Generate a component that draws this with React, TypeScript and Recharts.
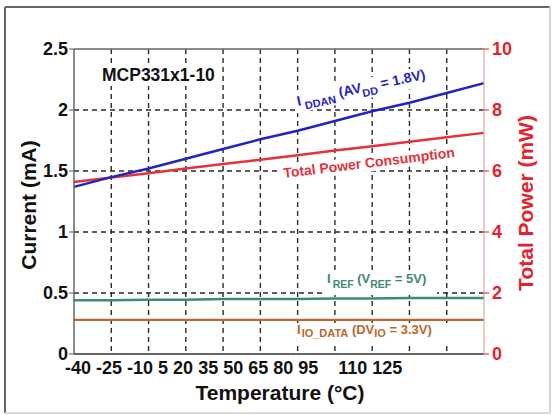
import { LineChart, Line, XAxis, YAxis, CartesianGrid, ReferenceLine } from "recharts";

const FONT = "'Liberation Sans', Arial, Helvetica, sans-serif";

// temperature sweep, °C
const temps = [-40, -25, -10, 5, 20, 35, 50, 65, 80, 95, 110, 125];
// currents, mA
const iddan = [1.37, 1.45, 1.52, 1.6, 1.68, 1.76, 1.83, 1.91, 1.99, 2.06, 2.14, 2.22];
const iref = [0.44, 0.44, 0.445, 0.445, 0.45, 0.45, 0.45, 0.455, 0.455, 0.46, 0.46, 0.46];
const iioData = [0.28, 0.28, 0.28, 0.28, 0.28, 0.28, 0.28, 0.28, 0.28, 0.28, 0.28, 0.28];
// total power, mW
const totalPower = [5.64, 5.79, 5.93, 6.08, 6.23, 6.37, 6.52, 6.67, 6.81, 6.96, 7.11, 7.25];

const currentTicks = [0, 0.5, 1, 1.5, 2, 2.5];
const powerTicks = [0, 2, 4, 6, 8, 10];

const rows = temps.map((t, i) => ({
  t,
  iddan: iddan[i],
  iref: iref[i],
  iio: iioData[i],
  power: totalPower[i],
}));

const BLUE = "#2323c4";
const RED = "#e2323c";
const GREEN = "#3d8b73";
const ORANGE = "#b9672f";

const tickStyle = { fill: "#111", fontSize: 18, fontWeight: 700, fontFamily: FONT };

// x tick text is drawn separately as one packed row, so the axis ticks stay invisible
const NoTick = () => <g />;

export default function App() {
  return (
    <div style={{ position: "fixed", left: 0, top: 0, width: 554, height: 415, background: "#fff" }}>
      <LineChart width={554} height={415} data={rows} margin={{ top: 49, right: 0, bottom: 0, left: 0 }}>
        <CartesianGrid
          yAxisId="left"
          horizontalValues={[0.5, 1, 1.5, 2]}
          verticalValues={temps.slice(1, -1)}
          stroke="#2a2a2a"
          strokeWidth={1.4}
          strokeDasharray="5 4"
        />
        <XAxis
          dataKey="t"
          type="number"
          domain={[-40, 125]}
          ticks={temps}
          interval={0}
          tick={<NoTick />}
          tickLine={false}
          axisLine={{ stroke: "#333", strokeWidth: 1.5 }}
          height={61}
        />
        <YAxis
          yAxisId="left"
          domain={[0, 2.5]}
          ticks={currentTicks}
          interval={0}
          width={74}
          tick={tickStyle}
          tickSize={5}
          tickMargin={1}
          tickLine={{ stroke: "#555" }}
          axisLine={{ stroke: "#666", strokeWidth: 1.5 }}
        />
        <YAxis
          yAxisId="right"
          orientation="right"
          domain={[0, 10]}
          ticks={powerTicks}
          interval={0}
          width={70}
          tick={{ ...tickStyle, fill: "#e3222c" }}
          tickSize={5}
          tickMargin={3}
          tickLine={{ stroke: "#e3222c" }}
          axisLine={{ stroke: "#e6a6a6", strokeWidth: 1.2 }}
        />
        <ReferenceLine yAxisId="left" y={2.5} stroke="#666" strokeWidth={1.5} />
        <Line yAxisId="left" dataKey="iio" type="linear" stroke={ORANGE} strokeWidth={2.2} dot={false} isAnimationActive={false} />
        <Line yAxisId="left" dataKey="iref" type="linear" stroke={GREEN} strokeWidth={2.5} dot={false} isAnimationActive={false} />
        <Line yAxisId="right" dataKey="power" type="linear" stroke={RED} strokeWidth={2.5} dot={false} isAnimationActive={false} />
        <Line yAxisId="left" dataKey="iddan" type="linear" stroke={BLUE} strokeWidth={2.5} dot={false} isAnimationActive={false} />
      </LineChart>

      <svg width={554} height={415} style={{ position: "absolute", left: 0, top: 0, pointerEvents: "none" }} fontFamily={FONT} fontWeight={700}>
        {/* outer frame */}
        <line x1={5} y1={7} x2={5} y2={413} stroke="#666" strokeWidth={2} />
        <line x1={5} y1={7} x2={550} y2={7} stroke="#666" strokeWidth={2} />
        <line x1={550} y1={7} x2={550} y2={413} stroke="#d4d4d4" strokeWidth={2} />
        <line x1={5} y1={413} x2={550} y2={413} stroke="#dadada" strokeWidth={2} />

        {/* device name */}
        <rect x={100} y={63} width={122} height={23} fill="#fff" />
        <text x={102} y={81} fontSize={17.5} fill="#111">MCP331x1-10</text>

        {/* I_DDAN label */}
        <g transform="translate(298,106) rotate(-12)">
          <rect x={-3} y={-13} width={142} height={20} fill="#fff" />
          <text x={0} y={0} fontSize={14} fill={BLUE}>
            <tspan>I</tspan>
            <tspan dx={3} dy={5} fontSize={11}>DDAN</tspan>
            <tspan dy={-5}> (AV</tspan>
            <tspan dy={5} fontSize={11}>DD</tspan>
            <tspan dy={-5}> = 1.8V)</tspan>
          </text>
        </g>

        {/* total power label */}
        <g transform="translate(284,178) rotate(-7)">
          <rect x={-2} y={-12} width={182} height={16} fill="#fff" />
          <text x={0} y={0} fontSize={14} fill={RED}>Total Power Consumption</text>
        </g>

        {/* I_REF label */}
        <rect x={323} y={270} width={114} height={25} fill="#fff" />
        <text x={327} y={283} fontSize={13} fill={GREEN}>
          <tspan>I</tspan>
          <tspan dx={2} dy={5} fontSize={10.5}>REF</tspan>
          <tspan dy={-5}> (V</tspan>
          <tspan dy={5} fontSize={10.5}>REF</tspan>
          <tspan dy={-5}> = 5V)</tspan>
        </text>

        {/* I_IO_DATA label */}
        <rect x={297} y={323} width={158} height={20} fill="#fff" />
        <text x={297} y={334} fontSize={13} fill={ORANGE}>
          <tspan>I</tspan>
          <tspan dx={1} dy={3} fontSize={11}>IO_DATA</tspan>
          <tspan dy={-3}> (DV</tspan>
          <tspan dy={3} fontSize={11}>IO</tspan>
          <tspan dy={-3}> = 3.3V)</tspan>
        </text>

        {/* temperature tick labels */}
        <text x={65} y={374} fontSize={18} fill="#111">
          {temps.map((t, i) => (
            <tspan key={t} dx={i === 0 ? 0 : t === 110 ? 15 : 0}>{(i === 0 ? "" : " ") + t}</tspan>
          ))}
        </text>

        {/* axis titles */}
        <text x={280} y={400} fontSize={21} fill="#111" textAnchor="middle">Temperature (°C)</text>
        <text transform="translate(36,205) rotate(-90)" fontSize={21} fill="#111" textAnchor="middle">Current (mA)</text>
        <text transform="translate(533,203) rotate(-90)" fontSize={21} fill="#e3222c" textAnchor="middle">Total Power (mW)</text>
      </svg>
    </div>
  );
}
